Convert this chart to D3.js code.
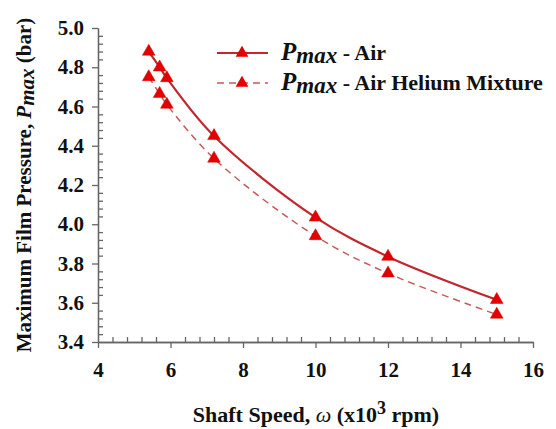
<!DOCTYPE html>
<html>
<head>
<meta charset="utf-8">
<script src="https://cdn.jsdelivr.net/npm/d3@7"></script>
<style>
  body { margin: 0; background: #fff; }
</style>
</head>
<body>
<div id="chart"></div>
<script>
// shaft speed (x10^3 rpm)
let speed = [5.4, 5.7, 5.9, 7.2, 10, 12, 15];
// max film pressure (bar)
let pAir = [4.88, 4.80, 4.745, 4.45, 4.035, 3.835, 3.615];
let pHelium = [4.75, 4.665, 4.61, 4.335, 3.94, 3.75, 3.54];
let xTicks = [4, 6, 8, 10, 12, 14, 16];
let yTicks = [3.4, 3.6, 3.8, 4.0, 4.2, 4.4, 4.6, 4.8, 5.0];

let width = 556,
    height = 429;
let serif = "'Liberation Serif', 'DejaVu Serif', serif";

let x = d3.scaleLinear().domain([4, 16]).range([98, 533]);
let y = d3.scaleLinear().domain([3.4, 5.0]).range([342, 28]);

let svg = d3.select("#chart")
    .append("svg")
    .attr("width", width)
    .attr("height", height)
    .attr("font-family", serif)
    .attr("font-weight", "bold");

// minor ticks point inward
let xMinor = d3.range(4, 16.01, 0.4).filter(v => Math.abs(v / 2 - Math.round(v / 2)) > 0.01);
let yMinor = d3.range(3.4, 5.001, 0.04).filter(v => Math.abs(v / 0.2 - Math.round(v / 0.2)) > 0.01);

svg.append("g")
    .attr("transform", "translate(0," + y(3.4) + ")")
    .call(d3.axisBottom(x).tickValues(xTicks).tickSize(6).tickSizeOuter(0).tickPadding(14).tickFormat(d3.format("d")));
svg.append("g")
    .attr("transform", "translate(0," + y(3.4) + ")")
    .call(d3.axisBottom(x).tickValues(xMinor).tickSize(-5).tickSizeOuter(0).tickFormat(""));

svg.append("g")
    .attr("transform", "translate(" + x(4) + ",0)")
    .call(d3.axisLeft(y).tickValues(yTicks).tickSize(6).tickSizeOuter(0).tickPadding(8).tickFormat(d3.format(".1f")));
svg.append("g")
    .attr("transform", "translate(" + x(4) + ",0)")
    .call(d3.axisLeft(y).tickValues(yMinor).tickSize(-5).tickSizeOuter(0).tickFormat(""));

svg.selectAll("g").attr("font-family", null).attr("font-size", null);
svg.selectAll(".domain, .tick line").attr("stroke", "#666").attr("stroke-width", 1.3);
svg.selectAll(".tick text")
    .style("font-family", serif).style("font-weight", "bold")
    .style("font-size", "21px").style("fill", "#111");

// curves
let line = d3.line()
    .x((d, i) => x(speed[i]))
    .y(d => y(d))
    .curve(d3.curveCatmullRom);

svg.append("path")
    .attr("d", line(pAir))
    .attr("fill", "none")
    .attr("stroke", "#c1272d")
    .attr("stroke-width", 2.2);

svg.append("path")
    .attr("d", line(pHelium))
    .attr("fill", "none")
    .attr("stroke", "#c85858")
    .attr("stroke-width", 1.5)
    .attr("stroke-dasharray", "7,5");

let tri = d3.symbol().type(d3.symbolTriangle).size(70);

[pAir, pHelium].forEach(series => {
    svg.append("g").selectAll("path")
        .data(series)
        .enter().append("path")
        .attr("d", tri)
        .attr("transform", (d, i) => "translate(" + x(speed[i]) + "," + y(d) + ")")
        .attr("fill", "#e30000")
        .attr("stroke", "#d00000")
        .attr("stroke-width", 0.5);
});

// legend
let legend = [
    {label: " - Air", dash: null, color: "#c1272d", w: 2.2, yy: 53},
    {label: " - Air Helium Mixture", dash: "7,5", color: "#c85858", w: 1.5, yy: 83}
];
legend.forEach(l => {
    svg.append("line")
        .attr("x1", 217).attr("x2", 268)
        .attr("y1", l.yy).attr("y2", l.yy)
        .attr("stroke", l.color)
        .attr("stroke-width", l.w)
        .attr("stroke-dasharray", l.dash);
    svg.append("path")
        .attr("d", tri)
        .attr("transform", "translate(242," + l.yy + ")")
        .attr("fill", "#e30000");
    let t = svg.append("text")
        .attr("x", 281)
        .attr("y", l.yy + 7)
        .style("font-size", "22px")
        .style("fill", "#111");
    t.append("tspan").text("P").style("font-style", "italic").style("font-size", "25px");
    t.append("tspan").text("max").style("font-style", "italic").style("font-size", "23px").attr("dy", 3);
    t.append("tspan").text(l.label).attr("dy", -3);
});

// axis titles
let xt = svg.append("text")
    .attr("x", 316)
    .attr("y", 422)
    .attr("text-anchor", "middle")
    .style("font-size", "22px")
    .style("fill", "#111");
xt.append("tspan").text("Shaft Speed, ");
xt.append("tspan").text("ω").style("font-style", "italic").style("font-weight", "normal");
xt.append("tspan").text(" (x10");
xt.append("tspan").text("3").attr("dy", -8).style("font-size", "18px");
xt.append("tspan").text(" rpm)").attr("dy", 8);

let yt = svg.append("text")
    .attr("transform", "translate(31,185) rotate(-90)")
    .attr("text-anchor", "middle")
    .style("font-size", "21px")
    .style("fill", "#111");
yt.append("tspan").text("Maximum Film Pressure, ");
yt.append("tspan").text("P").style("font-style", "italic");
yt.append("tspan").text("max").style("font-style", "italic").attr("dy", 3);
yt.append("tspan").text(" (bar)").attr("dy", -3);
</script>
</body>
</html>
